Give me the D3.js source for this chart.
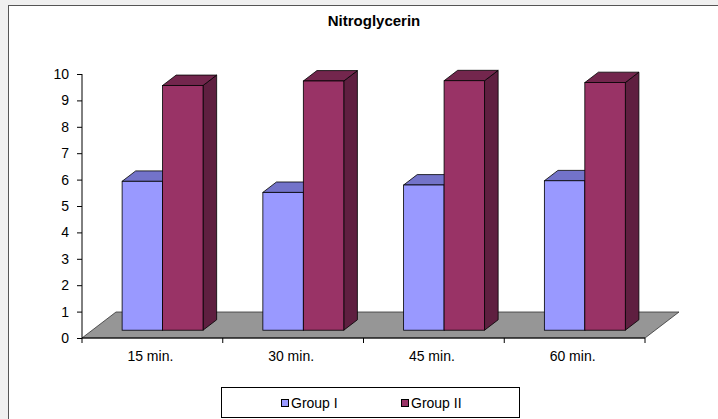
<!DOCTYPE html>
<html>
<head>
<meta charset="utf-8">
<script src="https://cdn.jsdelivr.net/npm/d3@7"></script>
<style>
  html, body { margin: 0; padding: 0; background: #f0f0f0; }
  svg { display: block; }
  text { font-family: "Liberation Sans", Arial, sans-serif; fill: #000; }
</style>
</head>
<body>
<svg id="chart" width="718" height="419"></svg>
<script>
const title = "Nitroglycerin";
const categories = ["15 min.", "30 min.", "45 min.", "60 min."];
const seriesNames = ["Group I", "Group II"];
const groupI = [5.64, 5.22, 5.5, 5.66];
const groupII = [9.27, 9.44, 9.45, 9.38];
const yTicks = [0, 1, 2, 3, 4, 5, 6, 7, 8, 9, 10];

const svg = d3.select("#chart");
const W = 718, H = 419;

// chart area frame
svg.append("rect").attr("x", 8.5).attr("y", 5.5).attr("width", W).attr("height", H)
  .attr("fill", "#fff").attr("stroke", "#555").attr("stroke-width", 1);

const x0 = d3.scaleBand().domain(categories).range([82, 645]).padding(0);
const bw = x0.bandwidth();
const x1 = d3.scaleBand().domain(seriesNames).range([bw * 0.2125, bw * 0.7875]).padding(0);
const y = d3.scaleLinear().domain([0, 10]).range([338, 74]);

// depth vector of the floor and bar depth fractions
const D = [34, -26];
const f0 = 0.3, f1 = 0.7;
const off = f => [D[0] * f, D[1] * f];

const colors = {
  "Group I": { front: "#9999ff", top: "#7373c9", side: "#6666b3" },
  "Group II": { front: "#993366", top: "#73264d", side: "#5f1f40" }
};

// floor
const fl = [[x0.range()[0], y(0)], [x0.range()[1], y(0)],
            [x0.range()[1] + D[0], y(0) + D[1]], [x0.range()[0] + D[0], y(0) + D[1]]];
svg.append("path").attr("d", d3.line()(fl) + "Z")
  .attr("fill", "#969696").attr("stroke", "#333").attr("stroke-width", 0.8);

// y axis
const yAxis = svg.append("g").attr("transform", "translate(82,0)")
  .call(d3.axisLeft(y).tickValues(yTicks).tickSize(5).tickPadding(8).tickFormat(d3.format("d")));
yAxis.selectAll("path, line").attr("stroke", "#000");
yAxis.select(".domain").attr("d", `M0,${y(10)}V${y(0)}`);
yAxis.selectAll("text").attr("font-size", 14).style("font-family", "Liberation Sans, Arial, sans-serif");

// x axis
const xAxis = svg.append("g").attr("transform", `translate(0,${y(0)})`);
xAxis.append("line").attr("x1", x0.range()[0]).attr("x2", x0.range()[1])
  .attr("stroke", "#000");
const edges = categories.map(c => x0(c)).concat([x0.range()[1]]);
xAxis.selectAll("line.tk").data(edges).join("line").attr("class", "tk")
  .attr("x1", d => d).attr("x2", d => d).attr("y1", 0).attr("y2", 5).attr("stroke", "#000");
xAxis.selectAll("text").data(categories).join("text")
  .attr("x", d => x0(d) + bw / 2 - 2).attr("y", 23)
  .attr("text-anchor", "middle").attr("font-size", 14).text(d => d);

// bars
const data = [groupI, groupII];
categories.forEach((c, i) => {
  seriesNames.forEach((s, k) => {
    const v = data[k][i];
    const [ox, oy] = off(f0);
    const [bx, by] = off(f1);
    const dx = bx - ox, dy = by - oy;
    const xl = x0(c) + x1(s) + ox, xr = xl + x1.bandwidth();
    const yt = y(v) + oy, yb = y(0) + oy;
    const g = svg.append("g");
    const col = colors[s];
    // side
    g.append("path").attr("d", d3.line()([[xr, yb], [xr + dx, yb + dy], [xr + dx, yt + dy], [xr, yt]]) + "Z")
      .attr("fill", col.side).attr("stroke", "#000").attr("stroke-width", 0.8).attr("stroke-linejoin", "round");
    // top
    g.append("path").attr("d", d3.line()([[xl, yt], [xr, yt], [xr + dx, yt + dy], [xl + dx, yt + dy]]) + "Z")
      .attr("fill", col.top).attr("stroke", "#000").attr("stroke-width", 0.8).attr("stroke-linejoin", "round");
    // front
    g.append("rect").attr("x", xl).attr("y", yt).attr("width", xr - xl).attr("height", yb - yt)
      .attr("fill", col.front).attr("stroke", "#000").attr("stroke-width", 0.8);
  });
});

// title
svg.append("text").attr("x", 374).attr("y", 26).attr("text-anchor", "middle")
  .attr("font-size", 15).attr("font-weight", "bold").text(title);

// legend
const lg = svg.append("g");
lg.append("rect").attr("x", 221.5).attr("y", 387.5).attr("width", 298).attr("height", 30)
  .attr("fill", "#fff").attr("stroke", "#000").attr("stroke-width", 1);
const legX = [281, 401];
seriesNames.forEach((s, k) => {
  lg.append("rect").attr("x", legX[k] + 0.5).attr("y", 399.5).attr("width", 7).attr("height", 7)
    .attr("fill", colors[s].front).attr("stroke", "#000").attr("stroke-width", 1);
  lg.append("text").attr("x", legX[k] + 10).attr("y", 408).attr("font-size", 14).text(s);
});
</script>
</body>
</html>
